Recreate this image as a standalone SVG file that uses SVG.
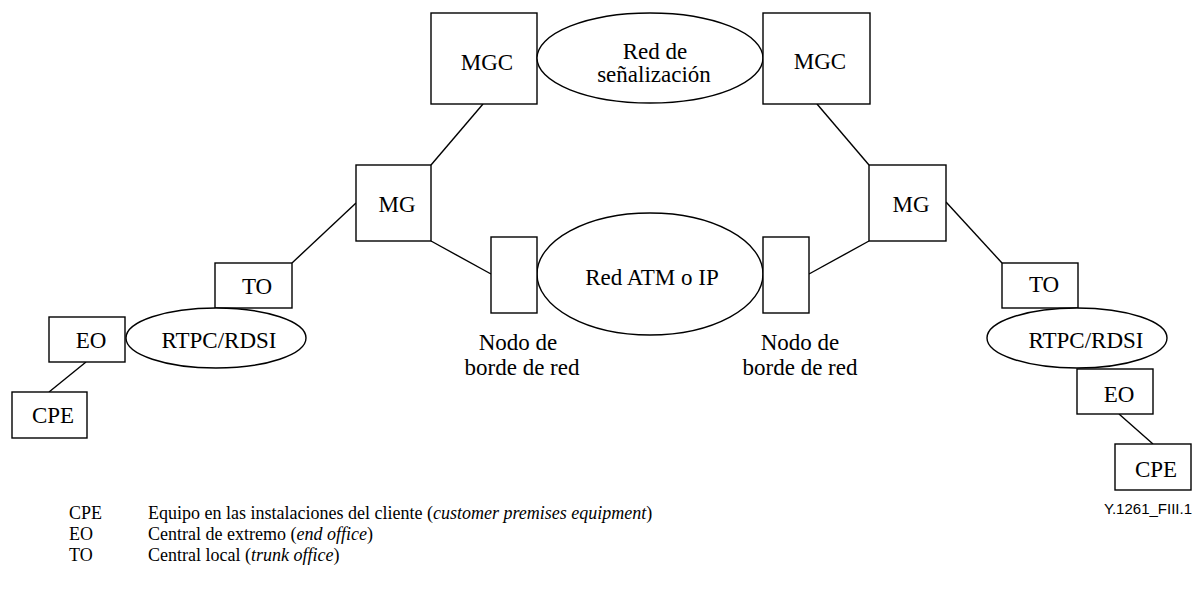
<svg xmlns="http://www.w3.org/2000/svg" width="1196" height="589" viewBox="0 0 1196 589">
<style>
.b{fill:#fff;stroke:#000;stroke-width:1.4}
.l{stroke:#000;stroke-width:1.4;fill:none}
.t{font-family:"Liberation Serif","Times New Roman",serif;font-size:23px;fill:#000;text-anchor:middle}
.g{font-family:"Liberation Serif","Times New Roman",serif;font-size:18px;fill:#000}
.s{font-family:"Liberation Sans",Arial,sans-serif;font-size:15px;fill:#000;text-anchor:end}
</style>
<rect width="1196" height="589" fill="#fff"/>
<g id="connectors">
<line class="l" x1="483" y1="104" x2="431" y2="165"/>
<line class="l" x1="817" y1="104" x2="869" y2="165"/>
<line class="l" x1="431" y1="241" x2="491" y2="274" stroke-width="1.1"/>
<line class="l" x1="869" y1="241" x2="809" y2="274" stroke-width="1.1"/>
<line class="l" x1="292" y1="263" x2="356" y2="203"/>
<line class="l" x1="946" y1="202" x2="1002" y2="263"/>
<line class="l" x1="86" y1="362" x2="49" y2="392"/>
<line class="l" x1="1119" y1="414" x2="1153" y2="444"/>
</g>
<g id="mgc-left"><rect class="b" x="431" y="13" width="106" height="91"/><text class="t" x="487" y="70">MGC</text></g>
<g id="red-senalizacion"><ellipse class="b" cx="650" cy="58" rx="113" ry="45"/><text class="t" x="655" y="59">Red de</text><text class="t" x="654" y="82">señalización</text></g>
<g id="mgc-right"><rect class="b" x="763" y="13" width="107" height="91"/><text class="t" x="820" y="69">MGC</text></g>
<g id="mg-left"><rect class="b" x="356" y="165" width="75" height="76"/><text class="t" x="397" y="212">MG</text></g>
<g id="mg-right"><rect class="b" x="869" y="165" width="77" height="76"/><text class="t" x="911" y="212">MG</text></g>
<g id="red-atm"><ellipse class="b" cx="650" cy="274" rx="113" ry="61"/><text class="t" x="652" y="285">Red ATM o IP</text></g>
<g id="edge-left"><rect class="b" x="491" y="237" width="46" height="76"/><text class="t" x="518" y="350">Nodo de</text><text class="t" x="522" y="375">borde de red</text></g>
<g id="edge-right"><rect class="b" x="763" y="237" width="46" height="76"/><text class="t" x="800" y="350">Nodo de</text><text class="t" x="800" y="375">borde de red</text></g>
<g id="to-left"><rect class="b" x="215" y="263" width="77" height="45"/><text class="t" x="257" y="294">TO</text></g>
<g id="rtpc-left"><ellipse class="b" cx="216" cy="338" rx="90" ry="30"/><text class="t" x="219" y="348">RTPC/RDSI</text></g>
<g id="eo-left"><rect class="b" x="49" y="317" width="76" height="45"/><text class="t" x="91" y="348">EO</text></g>
<g id="cpe-left"><rect class="b" x="12" y="392" width="75" height="46"/><text class="t" x="53" y="423">CPE</text></g>
<g id="to-right"><rect class="b" x="1002" y="263" width="76" height="45"/><text class="t" x="1044" y="292">TO</text></g>
<g id="rtpc-right"><ellipse class="b" cx="1077" cy="338" rx="90" ry="30"/><text class="t" x="1086" y="348">RTPC/RDSI</text></g>
<g id="eo-right"><rect class="b" x="1077" y="369" width="76" height="45"/><text class="t" x="1119" y="402">EO</text></g>
<g id="cpe-right"><rect class="b" x="1115" y="444" width="76" height="46"/><text class="t" x="1156" y="477">CPE</text></g>
<text class="s" x="1192" y="514">Y.1261_FIII.1</text>
<g id="legend">
<text class="g" x="69" y="519">CPE</text>
<text class="g" x="148" y="519">Equipo en las instalaciones del cliente (<tspan font-style="italic">customer premises equipment</tspan>)</text>
<text class="g" x="69" y="540">EO</text>
<text class="g" x="148" y="540">Central de extremo (<tspan font-style="italic">end office</tspan>)</text>
<text class="g" x="69" y="561">TO</text>
<text class="g" x="148" y="561">Central local (<tspan font-style="italic">trunk office</tspan>)</text>
</g>
</svg>
